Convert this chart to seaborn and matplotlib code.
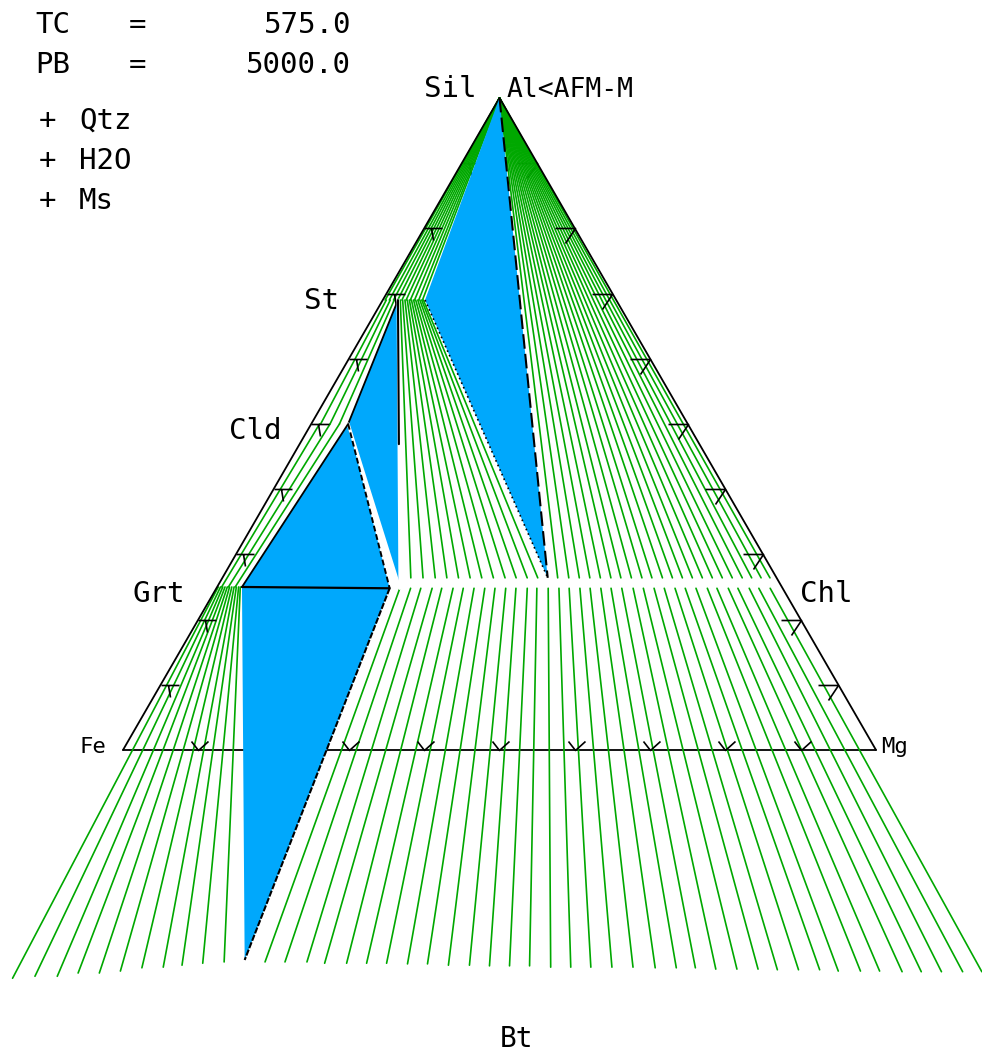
import numpy as np
import pandas as pd
import matplotlib
matplotlib.use("Agg")
import matplotlib.pyplot as plt
from matplotlib.path import Path
import seaborn as sns

# ---------------------------------------------------------------------------
# Run conditions and excess phases
TC = 575.0
PB = 5000.0
EXCESS = ["Qtz", "H2O", "Ms"]

# A-coordinate of each phase in the AFM projection (1 = Al apex, 0 = Fe-Mg join)
A_SIL = 1.0
A_ST = 0.690
A_CLD = 0.500
A_GRT = 0.250
A_CHL_SIL = 0.264   # chlorite on the Sil / St side
A_CHL_BT = 0.248    # chlorite on the Grt / Cld / Bt side

# Three-phase fields: XFe and A of the coexisting phases
tri_sil_st_chl_xfe = [0.50, 0.819, 0.413]
tri_sil_st_chl_a = [A_SIL, A_ST, A_CHL_SIL]
tri_st_cld_chl_xfe = [0.935, 0.902, 0.676]
tri_st_cld_chl_a = [A_ST, A_CLD, A_CHL_BT]
tri_grt_cld_chl_xfe = [0.956, 0.902, 0.694]
tri_grt_cld_chl_a = [A_GRT, A_CLD, A_CHL_BT]
tri_grt_chl_bt_xfe = [0.956, 0.694, 0.756]
tri_grt_chl_bt_a = [A_GRT, A_CHL_BT, -0.322]

# Two-phase fields: XFe of the tie-line ends
sil_st_st_xfe = [0.990, 0.972, 0.954, 0.936, 0.918, 0.900, 0.882, 0.864, 0.846, 0.830]
sil_chl_chl_xfe = [0.395, 0.375, 0.356, 0.337, 0.318, 0.299, 0.281, 0.262, 0.243, 0.225,
                   0.206, 0.188, 0.170, 0.152, 0.134, 0.116, 0.098, 0.080, 0.062, 0.045,
                   0.028, 0.012]
st_chl_st_xfe = [0.925, 0.915, 0.905, 0.895, 0.886, 0.877, 0.868, 0.859, 0.850, 0.841,
                 0.833, 0.826]
st_chl_chl_xfe = [0.660, 0.638, 0.616, 0.595, 0.574, 0.553, 0.532, 0.511, 0.490, 0.470,
                  0.450, 0.431]
st_cld_st_xfe = [0.985, 0.968, 0.951]
st_cld_cld_xfe = [0.975, 0.950, 0.925]
grt_cld_grt_xfe = [0.992, 0.980, 0.968]
grt_cld_cld_xfe = [0.978, 0.950, 0.925]
grt_bt_grt_xfe = [0.998, 0.994, 0.990, 0.986, 0.982, 0.978, 0.974, 0.970, 0.966, 0.962,
                  0.959]
grt_bt_bt_xfe = [0.979, 0.958, 0.936, 0.917, 0.896, 0.876, 0.856, 0.835, 0.817, 0.797,
                 0.776]
grt_bt_bt_a = [-0.350, -0.347, -0.347, -0.342, -0.342, -0.339, -0.334, -0.333, -0.330,
               -0.327, -0.325]
chl_bt_chl_xfe = [0.676, 0.657, 0.639, 0.619, 0.602, 0.582, 0.564, 0.545, 0.526, 0.508,
                  0.489, 0.471, 0.451, 0.434, 0.414, 0.395, 0.377, 0.358, 0.340, 0.321,
                  0.303, 0.284, 0.264, 0.246, 0.227, 0.209, 0.190, 0.172, 0.153, 0.133,
                  0.116, 0.096, 0.079, 0.059, 0.042, 0.022]
chl_bt_bt_xfe = [0.735, 0.715, 0.693, 0.675, 0.653, 0.633, 0.613, 0.592, 0.572, 0.551,
                 0.530, 0.510, 0.490, 0.470, 0.449, 0.429, 0.409, 0.388, 0.367, 0.345,
                 0.324, 0.305, 0.285, 0.264, 0.243, 0.224, 0.203, 0.182, 0.164, 0.142,
                 0.123, 0.101, 0.082, 0.062, 0.041, 0.022]
chl_bt_bt_a = [-0.325, -0.325, -0.325, -0.327, -0.327, -0.327, -0.327, -0.328, -0.328,
               -0.330, -0.330, -0.331, -0.331, -0.331, -0.333, -0.333, -0.333, -0.333,
               -0.333, -0.334, -0.334, -0.334, -0.336, -0.336, -0.336, -0.337, -0.337,
               -0.337, -0.339, -0.339, -0.339, -0.340, -0.340, -0.340, -0.340, -0.340]

# Frame ticks every 10 %; the 90 % ticks sit inside the crowded apex region
TICK_FRACTIONS = [0.1, 0.2, 0.3, 0.4, 0.5, 0.6, 0.7, 0.8]
APEX_TICK_FRACTIONS = [0.9]
BASE_TICK_FRACTIONS = [0.1, 0.2, 0.3, 0.4, 0.5, 0.6, 0.7, 0.8, 0.9]

# ---------------------------------------------------------------------------
GREEN = "#00a800"
BLUE = "#00a8fc"
H = np.sqrt(3) / 2

W_PX, H_PX = 982, 1051
UNIT_PX = 753.0           # pixels per unit side of the triangle
ORIGIN_PX = (123.0, 750.0)  # Fe corner


def proj(xfe, a):
    """AFM (XFe, A) -> cartesian; Fe at (0,0), Mg at (1,0), Al apex on top."""
    xfe, a = np.broadcast_arrays(np.asarray(xfe, float), np.asarray(a, float))
    return 0.5 + (1.0 - a) * (0.5 - xfe), a * H


def fpos(x, y):
    return x / W_PX, 1.0 - y / H_PX


sns.set_theme(style="white")
plt.rcParams["font.family"] = ["DejaVu Sans Mono", "DejaVu Sans"]

fig = plt.figure(figsize=(W_PX / 100, H_PX / 100), dpi=100)
fig.patch.set_facecolor("white")
ax = fig.add_axes([0, 0, 1, 1])
ax.set_facecolor("white")

# --- tie lines, one unit per line, drawn by seaborn -------------------------
rows = []


def add_field(name, xa, aa, xb, ab):
    ua, va = proj(xa, aa)
    ub, vb = proj(xb, ab)
    for i in range(len(ua)):
        key = f"{name}-{i}"
        rows.append((name, key, 0, ua[i], va[i]))
        rows.append((name, key, 1, ub[i], vb[i]))


n = len
add_field("sil-st", [0.5] * n(sil_st_st_xfe), A_SIL, sil_st_st_xfe, A_ST)
add_field("sil-chl", [0.5] * n(sil_chl_chl_xfe), A_SIL, sil_chl_chl_xfe, A_CHL_SIL)
add_field("st-chl", st_chl_st_xfe, A_ST, st_chl_chl_xfe, A_CHL_SIL)
add_field("st-cld", st_cld_st_xfe, A_ST, st_cld_cld_xfe, A_CLD)
add_field("grt-cld", grt_cld_grt_xfe, A_GRT, grt_cld_cld_xfe, A_CLD)
add_field("grt-bt", grt_bt_grt_xfe, A_GRT, grt_bt_bt_xfe, grt_bt_bt_a)
add_field("chl-bt", chl_bt_chl_xfe, A_CHL_BT, chl_bt_bt_xfe, chl_bt_bt_a)
ties = pd.DataFrame(rows, columns=["field", "tie", "end", "x", "y"])

sns.lineplot(data=ties, x="x", y="y", units="tie", estimator=None, sort=False,
             color=GREEN, linewidth=1.2, legend=False, ax=ax, zorder=2)

# --- frame ------------------------------------------------------------------
fu, fv = proj([1.0, 0.5, 0.0], [0.0, 1.0, 0.0])
ax.plot(fu[[0, 2]], fv[[0, 2]], color="black", lw=1.3, zorder=1.5)     # Fe-Mg join
ax.plot(fu, fv, color="black", lw=1.3, zorder=2.6)                    # Fe-Al-Mg sides

# --- three-phase fields -----------------------------------------------------
for xs, as_ in [(tri_sil_st_chl_xfe, tri_sil_st_chl_a),
                (tri_st_cld_chl_xfe, tri_st_cld_chl_a),
                (tri_grt_cld_chl_xfe, tri_grt_cld_chl_a),
                (tri_grt_chl_bt_xfe, tri_grt_chl_bt_a)]:
    tu, tv = proj(xs, as_)
    ax.fill(tu, tv, color=BLUE, lw=0, zorder=3)

# edges of the three-phase fields
u1, v1 = proj(tri_sil_st_chl_xfe, tri_sil_st_chl_a)
ax.plot(u1[[0, 2]], v1[[0, 2]], color="black", lw=1.5, dashes=(7, 2.5), zorder=4)
ax.plot(u1[[1, 2]], v1[[1, 2]], color="black", lw=1.2, ls=(0, (1, 2)), zorder=4)

u2, v2 = proj(tri_st_cld_chl_xfe, tri_st_cld_chl_a)
ax.plot(u2[[0, 1]], v2[[0, 1]], color="black", lw=1.3, zorder=4)
ax.plot(u2[[0, 2]], v2[[0, 2]], color="white", lw=2.0, zorder=4)
half_u = u2[0] + 0.5 * (u2[2] - u2[0])
half_v = v2[0] + 0.5 * (v2[2] - v2[0])
ax.plot([u2[0], half_u], [v2[0], half_v], color="black", lw=1.5, zorder=4.1)
ax.plot(u2[[1, 2]], v2[[1, 2]], color="white", lw=2.2, zorder=4)

u3, v3 = proj(tri_grt_cld_chl_xfe, tri_grt_cld_chl_a)
ax.plot(u3[[0, 1]], v3[[0, 1]], color="black", lw=1.3, zorder=4)
ax.plot(u3[[0, 2]], v3[[0, 2]], color="black", lw=1.6, zorder=4)
ax.plot(u3[[1, 2]], v3[[1, 2]], color="black", lw=1.4, dashes=(3, 1.5), zorder=4.1)

u4, v4 = proj(tri_grt_chl_bt_xfe, tri_grt_chl_bt_a)
ax.plot(u4[[1, 2]], v4[[1, 2]], color="black", lw=1.5, dashes=(3, 0.8), zorder=4)

# --- 10 % ticks on the frame --------------------------------------------------
def path_marker(verts, codes):
    p = Path(np.array(verts, float), codes)
    size = 2 * np.abs(p.vertices).max() * 0.72
    return p, size


M, L = Path.MOVETO, Path.LINETO
right_tick, right_ms = path_marker([(-20, 0), (0, 0), (-10, -15)], [M, L, L])
left_tick, left_ms = path_marker([(0, 0), (18, 0), (7, 0), (9, -12)], [M, L, M, L])
base_tick, base_ms = path_marker([(-7, 9), (0, 0), (10, 9)], [M, L, L])

tick_kw = dict(ls="none", mfc="none", mec="black", mew=1.2)
for fracs, z in [(TICK_FRACTIONS, 2.5), (APEX_TICK_FRACTIONS, 1.8)]:
    lu, lv = proj([1.0] * n(fracs), fracs)
    ax.plot(lu, lv, marker=left_tick, ms=left_ms, zorder=z, **tick_kw)
    ru, rv = proj([0.0] * n(fracs), fracs)
    ax.plot(ru, rv, marker=right_tick, ms=right_ms, zorder=z, **tick_kw)
bu, bv = proj(BASE_TICK_FRACTIONS, [0.0] * n(BASE_TICK_FRACTIONS))
ax.plot(bu, bv, marker=base_tick, ms=base_ms, zorder=2.5, **tick_kw)

# --- axes window: one unit = UNIT_PX pixels in both directions ---------------
ax.set_xlim(-ORIGIN_PX[0] / UNIT_PX, (W_PX - ORIGIN_PX[0]) / UNIT_PX)
ax.set_ylim(-(H_PX - ORIGIN_PX[1]) / UNIT_PX, ORIGIN_PX[1] / UNIT_PX)
ax.set_axis_off()

# --- text -------------------------------------------------------------------
big = dict(fontsize=21, color="black", va="baseline")
small = dict(fontsize=16, color="black", va="baseline")

fig.text(*fpos(35, 33), "TC", ha="left", **big)
fig.text(*fpos(137, 33), "=", ha="center", **big)
fig.text(*fpos(351, 33), f"{TC:.1f}", ha="right", **big)
fig.text(*fpos(35, 73), "PB", ha="left", **big)
fig.text(*fpos(137, 73), "=", ha="center", **big)
fig.text(*fpos(351, 73), f"{PB:.1f}", ha="right", **big)
for i, ph in enumerate(EXCESS):
    fig.text(*fpos(47, 129 + 40 * i), "+", ha="center", **big)
    fig.text(*fpos(79, 129 + 40 * i), ph, ha="left", **big)

fig.text(*fpos(424, 97), "Sil", ha="left", **big)
fig.text(*fpos(507, 97), "Al<AFM-M", ha="left", fontsize=19, color="black",
         va="baseline")
fig.text(*fpos(304, 309), "St", ha="left", **big)
fig.text(*fpos(229, 439), "Cld", ha="left", **big)
fig.text(*fpos(133, 602), "Grt", ha="left", **big)
fig.text(*fpos(800, 602), "Chl", ha="left", **big)
fig.text(*fpos(80, 753), "Fe", ha="left", **small)
fig.text(*fpos(881, 753), "Mg", ha="left", **small)
fig.text(*fpos(517, 1039), "Bt", ha="center", fontsize=20, color="black",
         va="center")

fig.savefig("out.png", dpi=100, facecolor="white")
